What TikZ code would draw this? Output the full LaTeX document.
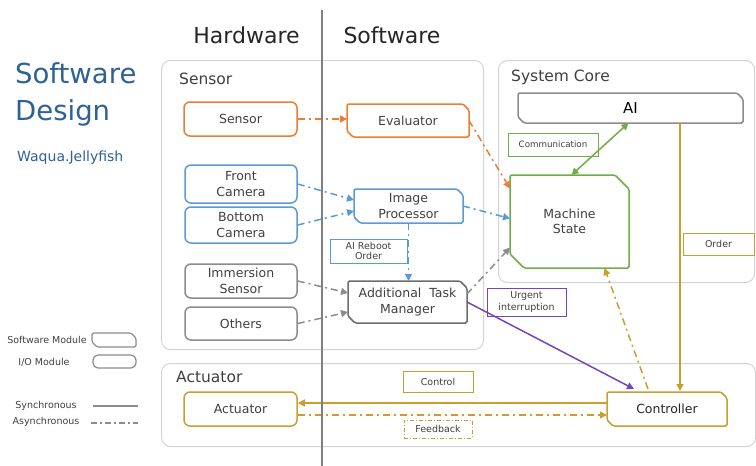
\documentclass[tikz,border=0pt]{standalone}
\usepackage{fontspec}
\setmainfont{DejaVu Sans}
\usetikzlibrary{arrows.meta,calc}
\definecolor{corange}{HTML}{ED7D31}
\definecolor{cblue}{HTML}{5B9BD5}
\definecolor{cgray}{HTML}{8C8C8C}
\definecolor{cdgray}{HTML}{6E6E6E}
\definecolor{cgreen}{HTML}{70AD47}
\definecolor{cgold}{HTML}{C9A030}
\definecolor{cpurple}{HTML}{7447B8}
\definecolor{ctext}{HTML}{404040}
\definecolor{chead}{HTML}{262626}
\definecolor{cgroup}{HTML}{D4D4D4}
\definecolor{ctitle}{HTML}{2F6294}
\definecolor{cdiv}{HTML}{7F7F7F}
\newcommand{\chamfbox}[4]{% name, colour, chamfer, line width
  \draw[draw=#2, line width=#4, rounded corners=1.5pt]
    (#1.north west) -- ($(#1.north east)+(-#3,0)$) -- ($(#1.north east)+(0,#3)$)
    -- (#1.south east) -- ($(#1.south west)+(#3,0)$) -- ($(#1.south west)+(0,-#3)$) -- cycle;}
\begin{document}
\begin{tikzpicture}[x=1pt,y=-1pt,
  txt/.style={text=ctext, font=\fontsize{12.5}{15.5}\selectfont, align=center, inner sep=0pt},
  iobox/.style={txt, draw, rounded corners=6pt, line width=1.5pt},
  swbox/.style={txt, outer sep=0pt},
  group/.style={draw=cgroup, line width=1pt, rounded corners=9pt, inner sep=0pt, anchor=north west},
  grouptitle/.style={text=ctext, font=\fontsize{15.5}{18}\selectfont, anchor=base west, inner sep=0pt},
  lbl/.style={txt, draw, line width=1pt, font=\fontsize{9.5}{11}\selectfont},
  legendtxt/.style={text=ctext, font=\fontsize{9.5}{11}\selectfont, inner sep=0pt},
  async/.style={line width=1.5pt, dash pattern=on 7pt off 4pt on 2pt off 4pt},
  sync/.style={line width=1.5pt},
  tip/.style={-{Triangle[length=7pt,width=7pt]}},
  tips/.style={{Triangle[length=7pt,width=7pt]}-{Triangle[length=7pt,width=7pt]}},
]
\useasboundingbox[fill=white] (0,0) rectangle (756,466);

% titles
\node[anchor=base west, inner sep=0pt, text=ctitle, font=\fontsize{27.5}{33}\selectfont] (t1) at (15,83) {Software};
\node[anchor=base west, inner sep=0pt, text=ctitle, font=\fontsize{27.5}{33}\selectfont] (t2) at (15,120) {Design};
\node[anchor=base west, inner sep=0pt, text=ctitle, font=\fontsize{14}{16}\selectfont] (t3) at (17,161) {Waqua.Jellyfish};
\node[anchor=base, inner sep=0pt, text=chead, font=\fontsize{22}{26}\selectfont] (hw) at (246.5,43) {Hardware};
\node[anchor=base, inner sep=0pt, text=chead, font=\fontsize{22}{26}\selectfont] (sw) at (392,43) {Software};

% groups
\node[group, minimum width=322, minimum height=289] (gsensor) at (161,60) {};
\node[group, minimum width=256, minimum height=222] (gcore) at (498,60) {};
\node[group, minimum width=594, minimum height=83] (gact) at (161,363) {};
\node[grouptitle] (gst) at (179,84) {Sensor};
\node[grouptitle] (gct) at (511,81) {System Core};
\node[grouptitle] (gat) at (176,382) {Actuator};

% modules
\node[iobox, draw=corange, minimum width=113, minimum height=34] (sensor) at (240.5,119) {Sensor};
\node[swbox, minimum width=122, minimum height=33] (eval) at (408,120.5) {Evaluator};
\chamfbox{eval}{corange}{6}{1.5pt}
\node[iobox, draw=cblue, minimum width=112, minimum height=38] (fcam) at (241,184) {Front\\Camera};
\node[iobox, draw=cblue, minimum width=112, minimum height=36] (bcam) at (241,225) {Bottom\\Camera};
\node[swbox, minimum width=109, minimum height=34] (ip) at (408.5,206) {Image\\Processor};
\chamfbox{ip}{cblue}{6}{1.5pt}
\node[iobox, draw=cgray, minimum width=112, minimum height=34] (imm) at (241,281) {Immersion\\Sensor};
\node[iobox, draw=cgray, minimum width=112, minimum height=33] (others) at (241,323.5) {Others};
\node[swbox, minimum width=119, minimum height=42] (atm) at (407.5,302) {Additional~~Task\\Manager};
\chamfbox{atm}{cdgray}{7}{1.5pt}
\node[lbl, draw=cblue, minimum width=77, minimum height=24, font=\fontsize{9.5}{10.5}\selectfont] (reboot) at (368.5,251) {AI Reboot\\Order};
\node[swbox, minimum width=225, minimum height=30, font=\fontsize{15}{18}\selectfont, text=black] (ai) at (630.5,108) {AI};
\chamfbox{ai}{cgray}{6}{1.5pt}
\node[swbox, minimum width=119, minimum height=93] (ms) at (569.5,221.5) {Machine\\State};
\chamfbox{ms}{cgreen}{14}{1.5pt}
\node[lbl, draw=cgreen, minimum width=90, minimum height=23, font=\fontsize{8.7}{10}\selectfont] (comm) at (553,144.5) {Communication};
\node[lbl, draw=cgold, minimum width=71, minimum height=22] (order) at (718.5,244) {Order};
\node[lbl, draw=cpurple, minimum width=79, minimum height=28, font=\fontsize{9.5}{11.5}\selectfont] (urgent) at (526.5,302) {Urgent\\interruption};
\node[swbox, minimum width=120, minimum height=34, text=black!85] (ctrl) at (667,409) {Controller};
\chamfbox{ctrl}{cgold}{6}{1.5pt}
\node[iobox, draw=cgold, minimum width=113, minimum height=34] (act) at (240.5,409) {Actuator};
\node[lbl, draw=cgold, minimum width=70, minimum height=21] (control) at (438,381.5) {Control};
\node[lbl, draw=cgold, dash pattern=on 4pt off 2pt on 1pt off 2pt, minimum width=68, minimum height=18] (feedback) at (438,429) {Feedback};

% connectors
\draw[async, tip, draw=corange] (sensor.east) -- (sensor.east -| eval.west);
\draw[async, tip, draw=cblue] (fcam.east) -- ($(ip.west)+(0,-6)$);
\draw[async, tip, draw=cblue] (bcam.east) -- ($(ip.west)+(0,5)$);
\draw[async, tip, draw=cgray] (imm.east) -- ($(atm.west)+(0,-9)$);
\draw[async, tip, draw=cgray] (others.east) -- ($(atm.west)+(0,10)$);
\draw[async, tip, draw=cblue] (ip.south) -- (ip.south |- atm.north);
\draw[async, tip, draw=corange] (eval.east) -- ($(ms.west)+(0,-33)$);
\draw[async, tip, draw=cblue] (ip.east) -- ($(ms.west)+(0,-3)$);
\draw[async, tip, draw=cgray] ($(atm.east)+(0,-8)$) -- ($(ms.west)+(0,26)$);
\draw[sync, tips, draw=cgreen] ($(ai.south)+(-2,0)$) -- ($(ms.north)+(2,0)$);
\coordinate (ordx) at ($(ctrl.north)+(13,-1)$);
\draw[sync, tip, draw=cgold] (ordx |- ai.south) -- (ordx);
\draw[sync, tip, draw=cpurple] (atm.east) -- ($(ctrl.north)+(-33,-3)$);
\draw[async, tip, draw=cgold] ($(ctrl.north)+(-19,-3)$) -- ($(ms.south)+(35,0)$);
\draw[sync, tip, draw=cgold] ($(ctrl.west)+(0,-6)$) -- ($(act.east)+(0,-6)$);
\draw[async, tip, draw=cgold] ($(act.east)+(0,6)$) -- ($(ctrl.west)+(0,6)$);

% divider
\coordinate (dtop) at (322,10);
\coordinate (dbot) at (322,466);
\draw[cdiv, line width=2pt] (dtop) -- (dbot);

% legend
\node[legendtxt] (lsw) at (47,340) {Software Module};
\node[legendtxt] (lio) at (44,362) {I/O Module};
\node[legendtxt] (lsy) at (46,406) {Synchronous};
\node[legendtxt] (las) at (46,422) {Asynchronous};
\node[inner sep=0pt, outer sep=0pt, minimum width=44, minimum height=14] (swicon) at (114,340) {};
\chamfbox{swicon}{cgray}{5}{1.2pt}
\node[draw=cgray, line width=1.2pt, rounded corners=5pt, inner sep=0pt, minimum width=43, minimum height=13] (ioicon) at (114.5,361.5) {};
\coordinate (sy1) at (93,406);
\coordinate (sy2) at (138,406);
\coordinate (as1) at (91,423);
\coordinate (as2) at (138,423);
\draw[cgray, line width=1.5pt] (sy1) -- (sy2);
\draw[cgray, line width=1.5pt, dash pattern=on 6pt off 3pt on 2pt off 3pt] (as1) -- (as2);
\end{tikzpicture}
\end{document}
